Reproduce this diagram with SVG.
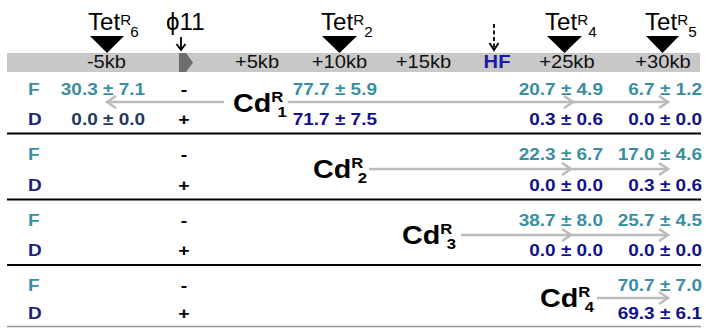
<svg xmlns="http://www.w3.org/2000/svg" width="707" height="328" viewBox="0 0 707 328">
<style>
text{font-family:"Liberation Sans",Arial,Helvetica,sans-serif;transform:scale(1.15,1)}
.hd{font-size:17.5px;text-anchor:middle;fill:#111}
.hf{font-size:17.5px;font-weight:bold;fill:#1a1aa0;text-anchor:middle}
text.tet{font-size:23px;fill:#000;transform:scale(1.05,1)}
.ss{font-size:14.5px}
.num{font-size:16.5px;font-weight:bold;text-anchor:end}
.f{fill:#3a8ea0}
.d{fill:#12128c}
.ds{fill:#1f3a62}
.dl{fill:#1a237e}
.lab{font-size:16.5px;font-weight:bold}
.pm{font-size:17px;font-weight:bold;text-anchor:middle;fill:#000}
.cd{font-size:25px;font-weight:bold;fill:#000}
.cs{font-size:14.5px;font-weight:bold}
.arr{stroke:#bcbcbc;stroke-width:2.5;fill:none;marker-end:url(#ah)}
.rule{stroke:#000;stroke-width:2}
.pt{stroke:#000;stroke-width:1.8;fill:none}
</style>
<defs>
<marker id="ah" markerWidth="12" markerHeight="14" refX="10" refY="7" orient="auto" markerUnits="userSpaceOnUse">
<path d="M1,1 L10,7 L1,13" fill="none" stroke="#bcbcbc" stroke-width="2.5"/>
</marker>
</defs>

<g id="map">
<rect x="7" y="53" width="693" height="19" fill="#c8c8c8"/>
<polygon points="179,53 186,53 193,62.5 186,72 179,72" fill="#6e6e6e"/>
<text class="hd" x="92.6" y="68">-5kb</text>
<text class="hd" x="223.5" y="68">+5kb</text>
<text class="hd" x="295.2" y="68">+10kb</text>
<text class="hd" x="368.3" y="68">+15kb</text>
<text class="hf" x="432.2" y="68">HF</text>
<text class="hd" x="493" y="68">+25kb</text>
<text class="hd" x="576.5" y="68">+30kb</text>
</g>

<g id="tetR6">
<polygon points="90,36 124,36 107,53" fill="#000"/>
<text class="tet" x="83.8" y="30">Tet<tspan class="ss" dy="-5">R</tspan><tspan class="ss" dy="12" dx="-1">6</tspan></text>
</g>
<g id="tetR2">
<polygon points="322,36 357,36 339.5,53" fill="#000"/>
<text class="tet" x="305.7" y="30">Tet<tspan class="ss" dy="-5">R</tspan><tspan class="ss" dy="12">2</tspan></text>
</g>
<g id="tetR4">
<polygon points="547,36 582,36 564.5,53" fill="#000"/>
<text class="tet" x="519" y="30">Tet<tspan class="ss" dy="-5">R</tspan><tspan class="ss" dy="12">4</tspan></text>
</g>
<g id="tetR5">
<polygon points="646,36 679,36 662.5,53" fill="#000"/>
<text class="tet" x="614.3" y="30">Tet<tspan class="ss" dy="-5">R</tspan><tspan class="ss" dy="12">5</tspan></text>
</g>
<g id="phi11">
<text class="tet" x="158.1" y="30">ϕ11</text>
<line class="pt" x1="181" y1="37" x2="181" y2="49"/>
<polyline class="pt" points="176.5,44 181,50 185.5,44"/>
</g>
<g id="hf">
<line class="pt" x1="494" y1="24" x2="494" y2="49" stroke-dasharray="4,2.5"/>
<polyline class="pt" points="489.5,43 494,50 498.5,43"/>
</g>

<g id="rules">
<line class="rule" x1="7" y1="133.5" x2="701" y2="133.5"/>
<line class="rule" x1="7" y1="199.5" x2="701" y2="199.5"/>
<line class="rule" x1="7" y1="265" x2="701" y2="265"/>
<line x1="7" y1="326.5" x2="701" y2="326.5" stroke="#999" stroke-width="1.5"/>
</g>

<g id="connectors">
<line class="arr" x1="224" y1="102" x2="107" y2="102"/>
<line class="arr" x1="288" y1="102" x2="573" y2="102"/>
<line class="arr" x1="573" y1="102" x2="668" y2="102"/>
<line class="arr" x1="369" y1="169" x2="571" y2="169"/>
<line class="arr" x1="571" y1="169" x2="668" y2="169"/>
<line class="arr" x1="461" y1="235" x2="571" y2="235"/>
<line class="arr" x1="571" y1="235" x2="668" y2="235"/>
<line class="arr" x1="597" y1="298" x2="668" y2="298"/>
</g>

<g id="row1">
<text class="lab f" x="24.3" y="95">F</text>
<text class="lab dl" x="24.3" y="125">D</text>
<text class="pm" x="160" y="95">-</text>
<text class="pm" x="160" y="125">+</text>
<text class="num f" x="126.1" y="95">30.3 ± 7.1</text>
<text class="num ds" x="126.1" y="125">0.0 ± 0.0</text>
<text class="num f" x="327.8" y="95">77.7 ± 5.9</text>
<text class="num d" x="327.8" y="125">71.7 ± 7.5</text>
<text class="num f" x="524.3" y="95">20.7 ± 4.9</text>
<text class="num d" x="524.3" y="125">0.3 ± 0.6</text>
<text class="num f" x="610.4" y="95">6.7 ± 1.2</text>
<text class="num d" x="610.4" y="125">0.0 ± 0.0</text>
</g>
<g id="cdR1"><text class="cd" x="202.6" y="112">Cd<tspan class="cs" dy="-10">R</tspan><tspan class="cs" dy="15" dx="-5">1</tspan></text></g>

<g id="row2">
<text class="lab f" x="24.3" y="160">F</text>
<text class="lab dl" x="24.3" y="191">D</text>
<text class="pm" x="160" y="160">-</text>
<text class="pm" x="160" y="191">+</text>
<text class="num f" x="524.3" y="160">22.3 ± 6.7</text>
<text class="num d" x="524.3" y="191">0.0 ± 0.0</text>
<text class="num f" x="610.4" y="160">17.0 ± 4.6</text>
<text class="num d" x="610.4" y="191">0.3 ± 0.6</text>
</g>
<g id="cdR2"><text class="cd" x="272.2" y="178">Cd<tspan class="cs" dy="-10">R</tspan><tspan class="cs" dy="15" dx="-5">2</tspan></text></g>

<g id="row3">
<text class="lab f" x="24.3" y="226">F</text>
<text class="lab dl" x="24.3" y="256">D</text>
<text class="pm" x="160" y="226">-</text>
<text class="pm" x="160" y="256">+</text>
<text class="num f" x="524.3" y="226">38.7 ± 8.0</text>
<text class="num d" x="524.3" y="256">0.0 ± 0.0</text>
<text class="num f" x="610.4" y="226">25.7 ± 4.5</text>
<text class="num d" x="610.4" y="256">0.0 ± 0.0</text>
</g>
<g id="cdR3"><text class="cd" x="349.6" y="244">Cd<tspan class="cs" dy="-10">R</tspan><tspan class="cs" dy="15" dx="-5">3</tspan></text></g>

<g id="row4">
<text class="lab f" x="24.3" y="291">F</text>
<text class="lab dl" x="24.3" y="319">D</text>
<text class="pm" x="160" y="291">-</text>
<text class="pm" x="160" y="319">+</text>
<text class="num f" x="610.4" y="291">70.7 ± 7.0</text>
<text class="num d" x="610.4" y="319">69.3 ± 6.1</text>
</g>
<g id="cdR4"><text class="cd" x="469.6" y="307">Cd<tspan class="cs" dy="-10">R</tspan><tspan class="cs" dy="15" dx="-5">4</tspan></text></g>
</svg>
